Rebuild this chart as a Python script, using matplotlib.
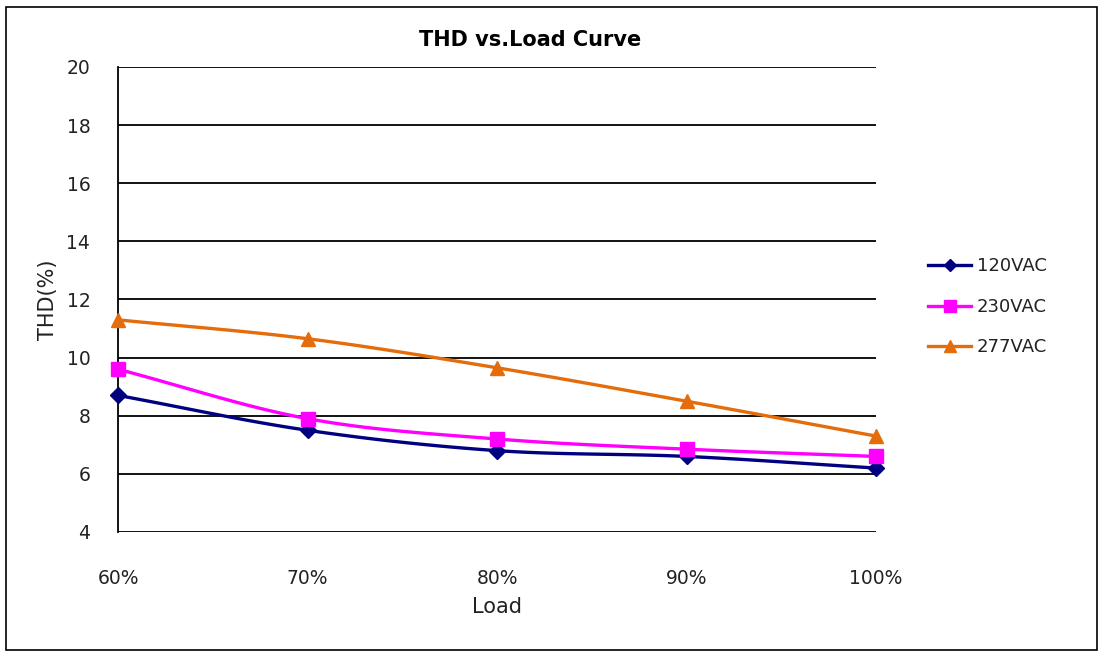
import numpy as np
import matplotlib
matplotlib.use("Agg")
import matplotlib.pyplot as plt
from matplotlib.patches import Rectangle

loads = ["60%", "70%", "80%", "90%", "100%"]
thd_120 = [8.7, 7.5, 6.8, 6.6, 6.2]
thd_230 = [9.6, 7.9, 7.2, 6.85, 6.6]
thd_277 = [11.3, 10.65, 9.65, 8.5, 7.3]
series_names = ["120VAC", "230VAC", "277VAC"]
y_ticks = [4, 6, 8, 10, 12, 14, 16, 18, 20]


def smooth(x, y, n=30):
    # Catmull-Rom spline through the data points (Excel-like smoothing)
    x = np.asarray(x, float); y = np.asarray(y, float)
    px = np.concatenate([[2 * x[0] - x[1]], x, [2 * x[-1] - x[-2]]])
    py = np.concatenate([[2 * y[0] - y[1]], y, [2 * y[-1] - y[-2]]])
    xs, ys = [], []
    for i in range(1, len(px) - 2):
        t = np.linspace(0, 1, n, endpoint=(i == len(px) - 3))
        for arr, out in ((px, xs), (py, ys)):
            p0, p1, p2, p3 = arr[i - 1], arr[i], arr[i + 1], arr[i + 2]
            out.extend(0.5 * ((2 * p1) + (-p0 + p2) * t
                              + (2 * p0 - 5 * p1 + 4 * p2 - p3) * t ** 2
                              + (-p0 + 3 * p1 - 3 * p2 + p3) * t ** 3))
    return np.array(xs), np.array(ys)


fig = plt.figure(figsize=(11, 6.53), dpi=100)
fig.patches.append(Rectangle((0.005, 0.005), 0.992, 0.984, transform=fig.transFigure,
                             fill=False, edgecolor="black", linewidth=1.2))
ax = fig.add_axes([0.1073, 0.1853, 0.6891, 0.7121])

x = np.arange(len(loads))
styles = [
    (thd_120, "#000080", "D", 8),
    (thd_230, "#FF00FF", "s", 10),
    (thd_277, "#E46C0A", "^", 10),
]
handles = []
for (vals, col, mk, ms), name in zip(styles, series_names):
    sx, sy = smooth(x, vals)
    ax.plot(sx, sy, color=col, linewidth=2.4, zorder=3, clip_on=False)
    ax.plot(x, vals, linestyle="none", marker=mk, color=col, markersize=ms,
            zorder=4, clip_on=False)
    h, = ax.plot([], [], color=col, linewidth=2.4, marker=mk, markersize=ms * 0.8, label=name)
    handles.append(h)

ax.set_xlim(0, len(loads) - 1)
ax.set_ylim(4, 20)
ax.set_yticks(y_ticks)
ax.set_xticks(x)
ax.set_xticklabels(loads)
ax.yaxis.grid(True, color="black", linewidth=1.3)
ax.set_axisbelow(True)
for s in ["top", "right", "bottom"]:
    ax.spines[s].set_visible(False)
ax.spines["left"].set_linewidth(1.3)
ax.tick_params(axis="both", length=0, labelsize=13.5, labelcolor="#222222")
ax.tick_params(axis="y", pad=20)
ax.tick_params(axis="x", pad=27)

ax.set_xlabel("Load", fontsize=15, labelpad=6, color="#222222")
ax.set_ylabel("THD(%)", fontsize=15, labelpad=6, color="#222222")
fig.text(530 / 1100, 1 - 40 / 653, "THD vs.Load Curve", fontsize=15, fontweight="bold",
         ha="center", va="center")

fig.legend(handles=handles, loc="center left", bbox_to_anchor=(0.829, 0.53),
           frameon=False, fontsize=13, handlelength=2.4, labelspacing=1.25,
           handletextpad=0.3, labelcolor="#222222")

fig.savefig("out.png", dpi=100)
